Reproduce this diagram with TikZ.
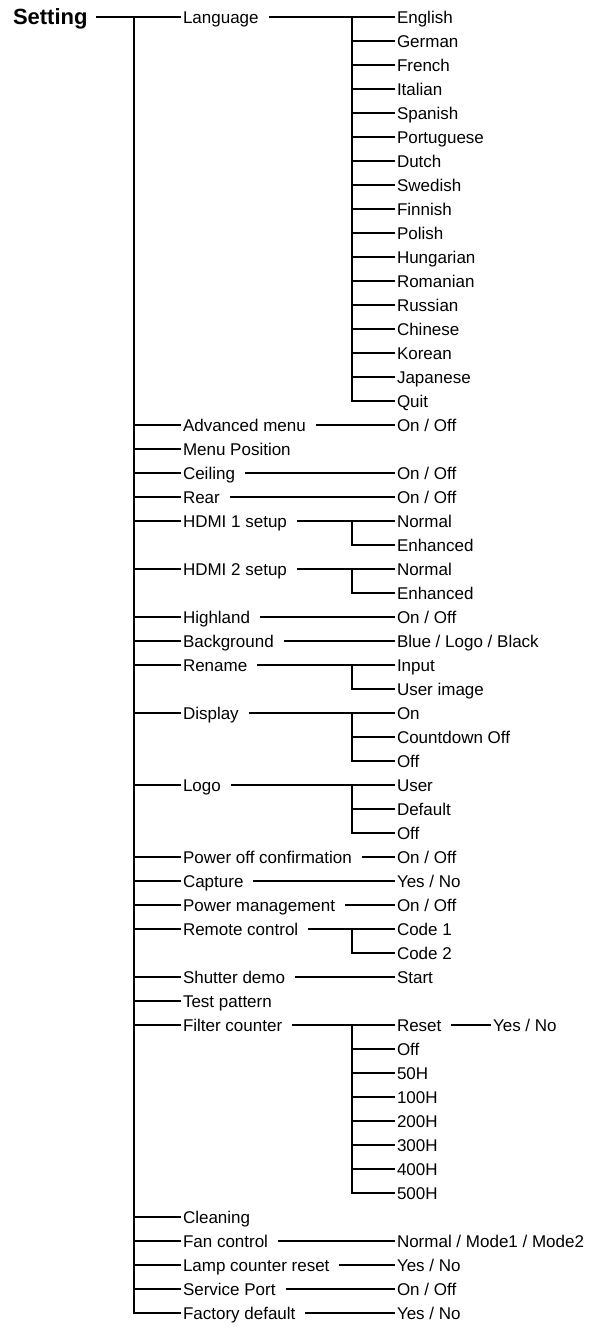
\documentclass[tikz,border=0pt]{standalone}
\usepackage{fontspec}
\setmainfont{Liberation Sans}

\tikzset{
  item/.style={anchor=west, inner xsep=1pt, inner ysep=0pt, outer sep=0pt,
    text height=6.1pt, text depth=0pt, font=\fontsize{8.5}{10}\selectfont},
  wire/.style={line width=1.4pt},
  gap/.style={shorten <=4pt}
}

\begin{document}
\begin{tikzpicture}[x=0.5pt,y=-0.5pt]
  \useasboundingbox (0,0) rectangle (598,1327);
  \coordinate (col1) at (181,0);
  \coordinate (col2) at (395,0);
  \coordinate (bus1) at (134,0);
  \coordinate (bus2) at (352,0);

  % ---- root ----
  \node[item, inner xsep=0pt, text height=7.9pt, font=\fontsize{11}{13}\selectfont\bfseries] (setting) at (13,17) {Setting};

  % ---- level 1: menu items ----
  \foreach \name/\row/\txt in {lang/0/Language, adv/17/Advanced menu, menupos/18/Menu Position,
      ceil/19/Ceiling, rear/20/Rear, hdmia/21/HDMI 1 setup, hdmib/23/HDMI 2 setup,
      high/25/Highland, back/26/Background, ren/27/Rename, disp/29/Display, logo/32/Logo,
      poff/35/Power off confirmation, capt/36/Capture, pman/37/Power management,
      rem/38/Remote control, shut/40/Shutter demo, test/41/Test pattern,
      filt/42/Filter counter, clean/50/Cleaning, fan/51/Fan control,
      lamp/52/Lamp counter reset, serv/53/Service Port, fact/54/Factory default}
    \node[item] (\name) at (181,17+24*\row) {\txt};

  \draw[wire, gap] (setting.east) -- (lang.west);
  \draw[wire] (bus1 |- lang.west) |- (fact.west);
  \foreach \name in {adv, menupos, ceil, rear, hdmia, hdmib, high, back, ren, disp, logo,
      poff, capt, pman, rem, shut, test, filt, clean, fan, lamp, serv}
    \draw[wire] (bus1 |- \name.west) -- (\name.west);

  % ---- level 2: single options ----
  \foreach \src/\txt in {adv/{On / Off}, ceil/{On / Off}, rear/{On / Off}, high/{On / Off},
      back/{Blue / Logo / Black}, poff/{On / Off}, capt/{Yes / No}, pman/{On / Off},
      shut/Start, fan/{Normal / Mode1 / Mode2}, lamp/{Yes / No}, serv/{On / Off},
      fact/{Yes / No}} {
    \node[item] (\src-opt) at (\src.west -| col2) {\txt};
    \draw[wire, gap] (\src.east) -- (\src-opt.west);
  }

  % ---- level 2: language list ----
  \foreach \txt [count=\i from 0] in {English, German, French, Italian, Spanish, Portuguese,
      Dutch, Swedish, Finnish, Polish, Hungarian, Romanian, Russian, Chinese, Korean,
      Japanese, Quit}
    \node[item] (lang-\i) at (395,17+24*\i) {\txt};
  \draw[wire, gap] (lang.east) -- (lang-0.west);
  \draw[wire] (bus2 |- lang.west) |- (lang-16.west);
  \foreach \i in {1,...,15}
    \draw[wire] (bus2 |- lang-\i.west) -- (lang-\i.west);

  % ---- level 2: short lists ----
  \foreach \src/\a/\b in {hdmia/Normal/Enhanced, hdmib/Normal/Enhanced,
      ren/Input/User image, rem/Code 1/Code 2} {
    \node[item] (\src-a) at (\src.west -| col2) {\a};
    \node[item] (\src-b) at ([yshift=-12pt]\src-a.west) {\b};
    \draw[wire, gap] (\src.east) -- (\src-a.west);
    \draw[wire] (bus2 |- \src.west) |- (\src-b.west);
  }
  \foreach \src/\a/\b/\c in {disp/On/Countdown Off/Off, logo/User/Default/Off} {
    \node[item] (\src-a) at (\src.west -| col2) {\a};
    \node[item] (\src-b) at ([yshift=-12pt]\src-a.west) {\b};
    \node[item] (\src-c) at ([yshift=-12pt]\src-b.west) {\c};
    \draw[wire, gap] (\src.east) -- (\src-a.west);
    \draw[wire] (bus2 |- \src.west) |- (\src-c.west);
    \draw[wire] (bus2 |- \src-b.west) -- (\src-b.west);
  }

  % ---- level 2: filter counter ----
  \foreach \txt [count=\i from 0] in {Reset, Off, 50H, 100H, 200H, 300H, 400H, 500H}
    \node[item] (filt-\i) at (395,1025+24*\i) {\txt};
  \draw[wire, gap] (filt.east) -- (filt-0.west);
  \draw[wire] (bus2 |- filt.west) |- (filt-7.west);
  \foreach \i in {1,...,6}
    \draw[wire] (bus2 |- filt-\i.west) -- (filt-\i.west);
  \node[item] (reset-opt) at (491,1025) {Yes / No};
  \draw[wire, gap] (filt-0.east) -- (reset-opt.west);
\end{tikzpicture}
\end{document}
